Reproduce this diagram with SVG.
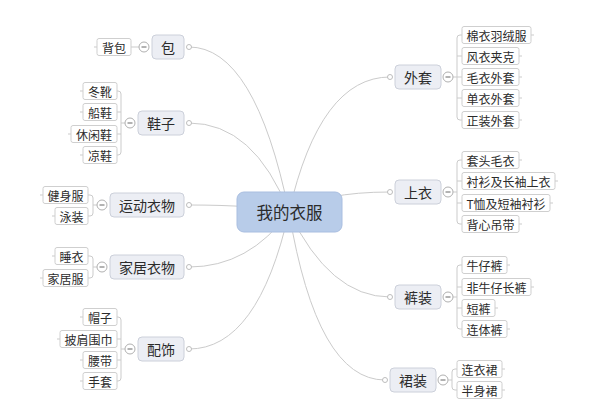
<svg xmlns="http://www.w3.org/2000/svg" width="600" height="414" viewBox="0 0 600 414">
<style>
text{font-family:"Noto Sans CJK SC","Noto Sans",sans-serif;fill:#2b2b2b;dominant-baseline:central;text-anchor:middle}
.link{fill:none;stroke:#cbcbcb;stroke-width:1}
.br{fill:none;stroke:#cbcbcb;stroke-width:1}
.main rect{fill:#eceef4;stroke:#ccd0da;stroke-width:1}
.main text{font-size:14px}
.leaf rect{fill:#fff;stroke:#cfcfcf;stroke-width:1}
.leaf text{font-size:12px}
.dot{fill:#fff;stroke:#bdbdbd;stroke-width:1}
.col circle{fill:#fff;stroke:#b0b0b0;stroke-width:1}
.col line{stroke:#666;stroke-width:1}
</style>
<rect x="0" y="0" width="600" height="414" fill="#fff"/>
<g id="connectors">
<path class="link" d="M189,47 Q255,47 289,212"/>
<path class="link" d="M189,123 Q254,123 289,212"/>
<path class="link" d="M189,205 Q255,205 289,212"/>
<path class="link" d="M189,267 Q249,267 289,212"/>
<path class="link" d="M189,349 Q258,349 289,212"/>
<path class="link" d="M390,77 Q320,77 289,212"/>
<path class="link" d="M390,192 Q323,192 289,212"/>
<path class="link" d="M390,297 Q330,297 289,212"/>
<path class="link" d="M385,380 Q317,380 289,212"/>
<!-- brackets -->
<path class="br" d="M131,47 H139"/>
<path class="br" d="M125,123 H121 M117,91 H118 Q121,91 121,94 V152 Q121,155 118,155 H117 M117,112 H121 M117,134 H121"/>
<path class="br" d="M97,205 H93 M88,195 H90 Q93,195 93,198 V213 Q93,216 90,216 H88"/>
<path class="br" d="M97,267 H93 M88,256 H90 Q93,256 93,259 V275 Q93,278 90,278 H88"/>
<path class="br" d="M125,349 H121 M117,317 H118 Q121,317 121,320 V378 Q121,381 118,381 H117 M117,339 H121 M117,360 H121"/>
<path class="br" d="M453,77 H457 M462,35 H460 Q457,35 457,38 V117 Q457,120 460,120 H462 M457,56 H462 M457,77 H462 M457,98 H462"/>
<path class="br" d="M453,192 H457 M462,160 H460 Q457,160 457,163 V221 Q457,224 460,224 H462 M457,181 H462 M457,203 H462"/>
<path class="br" d="M453,297 H457 M462,265 H460 Q457,265 457,268 V326 Q457,329 460,329 H462 M457,287 H462 M457,308 H462"/>
<path class="br" d="M448,380 H452 M457,369 H455 Q452,369 452,372 V387 Q452,390 455,390 H457"/>
<!-- outer stubs -->
<path class="br" d="M97,47 H94 M83,91 H80 M83,112 H80 M71,134 H68 M83,155 H80 M43,195 H40 M55,216 H52 M55,256 H52 M43,278 H40 M83,317 H80 M60,339 H57 M83,360 H80 M83,381 H80 M531,35 H534 M519,56 H522 M519,77 H522 M519,98 H522 M519,120 H522 M519,160 H522 M555,181 H558 M550,203 H553 M519,224 H522 M507,265 H510 M531,287 H534 M495,308 H498 M507,329 H510 M502,369 H505 M502,390 H505"/>
</g>
<g id="center">
<rect x="237" y="192" width="105" height="40" rx="7" fill="#b8cce9" stroke="#a9bee0"/>
<text x="289.5" y="212" style="font-size:16.5px">我的衣服</text>
</g>
<!-- left main topics -->
<g id="bao" class="main"><rect x="152" y="35" width="32" height="24" rx="4"/><text x="168" y="47">包</text><circle class="dot" cx="189" cy="47" r="2.5"/></g>
<g id="bao-col" class="col"><circle cx="144" cy="47" r="5"/><line x1="141.5" y1="47" x2="146.5" y2="47"/></g>
<g id="xiezi" class="main"><rect x="138" y="111" width="46" height="24" rx="4"/><text x="161" y="123">鞋子</text><circle class="dot" cx="189" cy="123" r="2.5"/></g>
<g id="xiezi-col" class="col"><circle cx="130" cy="123" r="5"/><line x1="127.5" y1="123" x2="132.5" y2="123"/></g>
<g id="yundong" class="main"><rect x="110" y="193" width="74" height="24" rx="4"/><text x="147" y="205">运动衣物</text><circle class="dot" cx="189" cy="205" r="2.5"/></g>
<g id="yundong-col" class="col"><circle cx="102" cy="205" r="5"/><line x1="99.5" y1="205" x2="104.5" y2="205"/></g>
<g id="jiaju" class="main"><rect x="110" y="255" width="74" height="24" rx="4"/><text x="147" y="267">家居衣物</text><circle class="dot" cx="189" cy="267" r="2.5"/></g>
<g id="jiaju-col" class="col"><circle cx="102" cy="267" r="5"/><line x1="99.5" y1="267" x2="104.5" y2="267"/></g>
<g id="peishi" class="main"><rect x="138" y="337" width="46" height="24" rx="4"/><text x="161" y="349">配饰</text><circle class="dot" cx="189" cy="349" r="2.5"/></g>
<g id="peishi-col" class="col"><circle cx="130" cy="349" r="5"/><line x1="127.5" y1="349" x2="132.5" y2="349"/></g>
<!-- right main topics -->
<g id="waitao" class="main"><rect x="395" y="65" width="46" height="24" rx="4"/><text x="418" y="77">外套</text><circle class="dot" cx="390" cy="77" r="2.5"/></g>
<g id="waitao-col" class="col"><circle cx="448" cy="77" r="5"/><line x1="445.5" y1="77" x2="450.5" y2="77"/></g>
<g id="shangyi" class="main"><rect x="395" y="180" width="46" height="24" rx="4"/><text x="418" y="192">上衣</text><circle class="dot" cx="390" cy="192" r="2.5"/></g>
<g id="shangyi-col" class="col"><circle cx="448" cy="192" r="5"/><line x1="445.5" y1="192" x2="450.5" y2="192"/></g>
<g id="kuzhuang" class="main"><rect x="395" y="285" width="46" height="24" rx="4"/><text x="418" y="297">裤装</text><circle class="dot" cx="390" cy="297" r="2.5"/></g>
<g id="kuzhuang-col" class="col"><circle cx="448" cy="297" r="5"/><line x1="445.5" y1="297" x2="450.5" y2="297"/></g>
<g id="qunzhuang" class="main"><rect x="390" y="368" width="46" height="24" rx="4"/><text x="413" y="380">裙装</text><circle class="dot" cx="385" cy="380" r="2.5"/></g>
<g id="qunzhuang-col" class="col"><circle cx="443" cy="380" r="5"/><line x1="440.5" y1="380" x2="445.5" y2="380"/></g>
<!-- left leaves -->
<g id="beibao" class="leaf"><rect x="97" y="38.5" width="34" height="17" rx="2"/><text x="114" y="47">背包</text></g>
<g id="dongxue" class="leaf"><rect x="83" y="82.5" width="34" height="17" rx="2"/><text x="100" y="91">冬靴</text></g>
<g id="chuanxie" class="leaf"><rect x="83" y="103.5" width="34" height="17" rx="2"/><text x="100" y="112">船鞋</text></g>
<g id="xiuxianxie" class="leaf"><rect x="71" y="125.5" width="46" height="17" rx="2"/><text x="94" y="134">休闲鞋</text></g>
<g id="liangxie" class="leaf"><rect x="83" y="146.5" width="34" height="17" rx="2"/><text x="100" y="155">凉鞋</text></g>
<g id="jianshenfu" class="leaf"><rect x="43" y="186.5" width="45" height="17" rx="2"/><text x="65.5" y="195">健身服</text></g>
<g id="yongzhuang" class="leaf"><rect x="55" y="207.5" width="33" height="17" rx="2"/><text x="71.5" y="216">泳装</text></g>
<g id="shuiyi" class="leaf"><rect x="55" y="247.5" width="33" height="17" rx="2"/><text x="71.5" y="256">睡衣</text></g>
<g id="jiajufu" class="leaf"><rect x="43" y="269.5" width="45" height="17" rx="2"/><text x="65.5" y="278">家居服</text></g>
<g id="maozi" class="leaf"><rect x="83" y="308.5" width="34" height="17" rx="2"/><text x="100" y="317">帽子</text></g>
<g id="pijianweijin" class="leaf"><rect x="60" y="330.5" width="57" height="17" rx="2"/><text x="88.5" y="339">披肩围巾</text></g>
<g id="yaodai" class="leaf"><rect x="83" y="351.5" width="34" height="17" rx="2"/><text x="100" y="360">腰带</text></g>
<g id="shoutao" class="leaf"><rect x="83" y="372.5" width="34" height="17" rx="2"/><text x="100" y="381">手套</text></g>
<!-- right leaves -->
<g id="mianyi" class="leaf"><rect x="462" y="26.5" width="69" height="17" rx="2"/><text x="496.5" y="35">棉衣羽绒服</text></g>
<g id="fengyi" class="leaf"><rect x="462" y="47.5" width="57" height="17" rx="2"/><text x="490.5" y="56">风衣夹克</text></g>
<g id="maoyiwaitao" class="leaf"><rect x="462" y="68.5" width="57" height="17" rx="2"/><text x="490.5" y="77">毛衣外套</text></g>
<g id="danyiwaitao" class="leaf"><rect x="462" y="89.5" width="57" height="17" rx="2"/><text x="490.5" y="98">单衣外套</text></g>
<g id="zhengzhuang" class="leaf"><rect x="462" y="111.5" width="57" height="17" rx="2"/><text x="490.5" y="120">正装外套</text></g>
<g id="taotou" class="leaf"><rect x="462" y="151.5" width="57" height="17" rx="2"/><text x="490.5" y="160">套头毛衣</text></g>
<g id="chenshan" class="leaf"><rect x="462" y="172.5" width="93" height="17" rx="2"/><text x="508.5" y="181">衬衫及长袖上衣</text></g>
<g id="txu" class="leaf"><rect x="462" y="194.5" width="88" height="17" rx="2"/><text x="506" y="203">T恤及短袖衬衫</text></g>
<g id="beixin" class="leaf"><rect x="462" y="215.5" width="57" height="17" rx="2"/><text x="490.5" y="224">背心吊带</text></g>
<g id="niuzaiku" class="leaf"><rect x="462" y="256.5" width="45" height="17" rx="2"/><text x="484.5" y="265">牛仔裤</text></g>
<g id="feiniuzai" class="leaf"><rect x="462" y="278.5" width="69" height="17" rx="2"/><text x="496.5" y="287">非牛仔长裤</text></g>
<g id="duanku" class="leaf"><rect x="462" y="299.5" width="33" height="17" rx="2"/><text x="478.5" y="308">短裤</text></g>
<g id="liantiku" class="leaf"><rect x="462" y="320.5" width="45" height="17" rx="2"/><text x="484.5" y="329">连体裤</text></g>
<g id="lianyiqun" class="leaf"><rect x="457" y="360.5" width="45" height="17" rx="2"/><text x="479.5" y="369">连衣裙</text></g>
<g id="banshenqun" class="leaf"><rect x="457" y="381.5" width="45" height="17" rx="2"/><text x="479.5" y="390">半身裙</text></g>
</svg>
